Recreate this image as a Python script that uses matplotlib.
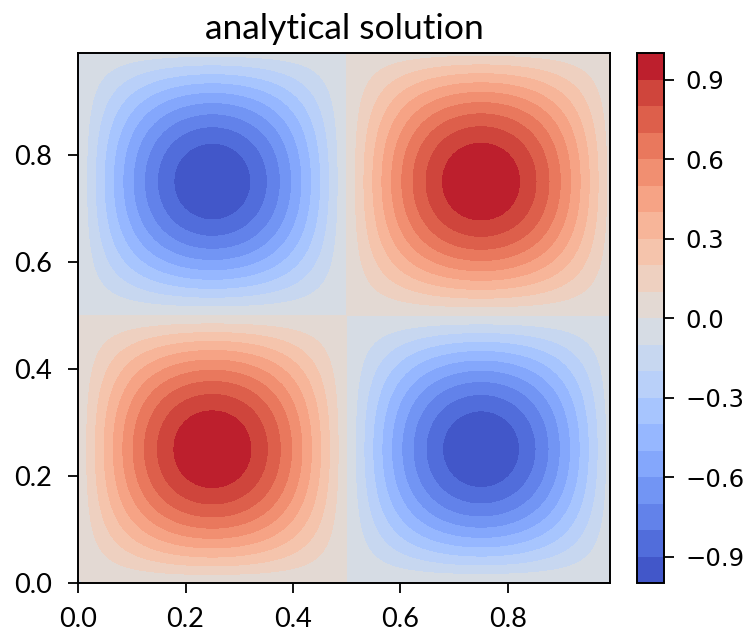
import numpy as np
import matplotlib
matplotlib.use("Agg")
import matplotlib.pyplot as plt

# Analytical solution u(x, y) = sin(k*pi*x) * sin(k*pi*y) on the unit square
wave_number = 2
grid_step = 0.01
levels = np.round(np.linspace(-1.0, 1.0, 21), 2)
cbar_ticks = [-0.9, -0.6, -0.3, 0.0, 0.3, 0.6, 0.9]
axis_ticks = [0.0, 0.2, 0.4, 0.6, 0.8]
title = "analytical solution"

x = np.arange(0.0, 1.0, grid_step)
y = np.arange(0.0, 1.0, grid_step)
X, Y = np.meshgrid(x, y)
U = np.sin(wave_number * np.pi * X) * np.sin(wave_number * np.pi * Y)

fig = plt.figure(figsize=(7.46, 6.32), dpi=100)
ax = fig.add_axes([0.1046, 0.0775, 0.7131, 0.8385])
cax = fig.add_axes([0.854, 0.0775, 0.036, 0.838])

cs = ax.contourf(X, Y, U, levels=levels, cmap="coolwarm")
ax.set_xticks(axis_ticks)
ax.set_yticks(axis_ticks)
label_font = ["Lato", "DejaVu Sans"]
for lab in ax.get_xticklabels() + ax.get_yticklabels():
    lab.set_family(label_font)
    lab.set_fontsize(19.5)
ax.tick_params(length=7.5, width=1.3)
ax.tick_params(axis="x", pad=10)
ax.tick_params(axis="y", pad=11)
for s in ax.spines.values():
    s.set_linewidth(1.4)
ax.set_title(title, family=label_font, fontsize=25.5, pad=10)

cb = fig.colorbar(cs, cax=cax, ticks=cbar_ticks)
cb.ax.tick_params(labelsize=17.5, length=7.5, width=1.3, pad=8)
for lab in cb.ax.get_yticklabels():
    lab.set_family("DejaVu Sans")
cb.outline.set_linewidth(1.4)

fig.savefig("out.png", dpi=100)
